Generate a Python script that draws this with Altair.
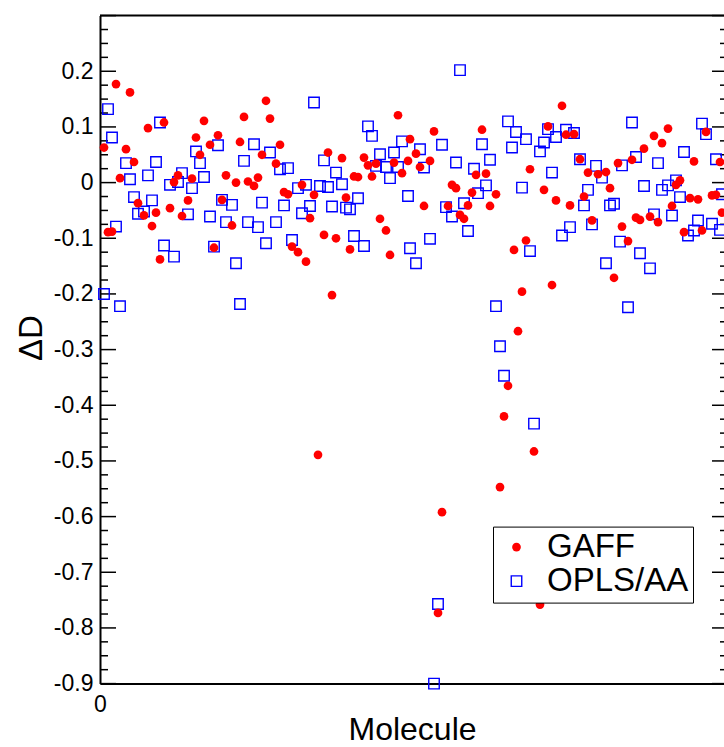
import altair as alt
import pandas as pd

FONT = "Liberation Sans"

series_names = ["GAFF", "OPLS/AA"]

gaff_x = [8, 15, 24, 32, 48, 2, 13, 17, 10, 39, 37, 46, 44, 19, 35, 28, 22, 41, 26, 4, 6, 30,
          50, 83, 72, 85, 52, 59, 55, 70, 90, 81, 88, 63, 68, 74, 79, 77, 92, 94, 101, 61, 66, 57, 96, 99, 103,
          149, 114, 121, 132, 134, 138, 147, 154, 155, 127, 129, 136, 151, 107, 123, 105, 140, 143, 112, 118, 125, 145, 116, 109,
          167, 191, 158, 165, 160, 188, 193, 176, 178, 186, 198, 162, 174, 184, 195, 180, 182, 207,
          231, 224, 233, 237, 240, 259, 215, 244, 249, 253, 255, 222, 228, 235, 242, 246, 261, 213, 257, 226, 211,
          284, 277, 281, 272, 303, 266, 297, 310, 290, 288, 295, 299, 306, 308, 286, 311, 268, 270, 275, 279, 292, 301, 264,
          209, 204, 202, 217, 200, 171, 169, 220]
gaff_y = [0.177, 0.162, 0.098, 0.108, 0.081, 0.063, 0.060, 0.037, 0.008, 0.013, 0.001, 0.007, -0.032, -0.037, -0.046, -0.054, -0.059, -0.060, -0.078, -0.089, -0.088, -0.138,
          0.050, 0.147, 0.118, 0.115, 0.111, 0.085, 0.068, 0.073, 0.068, 0.050, 0.034, 0.013, 0.000, 0.002, 0.009, -0.006, -0.017, -0.021, -0.004, -0.031, -0.077, -0.117, -0.115, -0.125, -0.142,
          0.121, 0.054, 0.044, 0.045, 0.031, 0.034, 0.036, 0.039, 0.078, 0.011, 0.010, 0.011, 0.017, -0.022, -0.027, -0.064, -0.065, -0.086, -0.094, -0.100, -0.120, -0.130, -0.202, -0.489,
          0.092, 0.095, 0.052, 0.039, 0.028, 0.014, 0.016, -0.004, -0.010, -0.018, -0.021, -0.042, -0.042, -0.041, -0.042, -0.058, -0.065, -0.121,
          0.138, 0.101, 0.086, 0.087, 0.042, 0.035, 0.024, 0.018, 0.015, 0.019, -0.010, -0.013, -0.032, -0.041, -0.025, -0.068, -0.079, -0.104, -0.171, -0.184, -0.196,
          0.097, 0.084, 0.071, 0.061, 0.091, 0.041, 0.038, 0.037, 0.004, -0.004, -0.028, -0.030, -0.023, -0.022, -0.042, -0.054, -0.063, -0.067, -0.061, -0.071, -0.089, -0.086, -0.105,
          -0.267, -0.365, -0.420, -0.483, -0.547, -0.592, -0.773, -0.758]

opls_x = [4, 30, 6, 48, 13, 28, 50, 15, 24, 41, 35, 39, 46, 17, 26, 19, 22, 44, 8, 32, 37, 2, 10,
          59, 77, 85, 72, 90, 94, 52, 99, 61, 66, 81, 92, 101, 55, 63, 74, 79, 88, 83, 96, 57, 68, 70,
          107, 134, 136, 151, 140, 147, 112, 138, 143, 149, 118, 145, 121, 110, 114, 103, 129, 154, 105, 116, 123, 125, 127, 132, 155,
          180, 204, 208, 171, 191, 206, 160, 178, 195, 187, 162, 193, 189, 182, 173, 176, 184, 165, 158, 198,
          213, 224, 233, 237, 228, 222, 220, 240, 248, 251, 261, 226, 211, 244, 242, 255, 257, 246, 235, 231, 260, 215, 253,
          266, 301, 303, 292, 308, 268, 279, 288, 284, 281, 272, 290, 311, 277, 286, 299, 306, 297, 294, 310, 270, 275, 264,
          200, 202, 217, 169, 167]
opls_y = [0.132, 0.108, 0.081, 0.056, 0.035, 0.037, 0.035, 0.006, 0.013, 0.017, -0.004, 0.001, -0.010, -0.026, -0.032, -0.056, -0.052, -0.057, -0.079, -0.113, -0.133, -0.200, -0.222,
          0.067, 0.069, 0.054, 0.039, 0.024, 0.026, 0.010, -0.010, -0.031, -0.040, -0.036, -0.041, -0.055, -0.061, -0.071, -0.071, -0.080, -0.071, -0.109, -0.103, -0.115, -0.145, -0.218,
          0.144, 0.101, 0.084, 0.074, 0.051, 0.054, 0.040, 0.030, 0.028, 0.028, 0.018, 0.008, -0.003, -0.006, -0.008, -0.004, -0.028, -0.024, -0.042, -0.043, -0.045, -0.048, -0.096, -0.114, -0.118,
          0.202, 0.110, 0.091, 0.068, 0.069, 0.063, 0.060, 0.036, 0.041, 0.025, 0.027, -0.005, -0.019, -0.037, -0.044, -0.061, -0.087, -0.101, -0.145, -0.222,
          0.078, 0.096, 0.095, 0.089, 0.082, 0.072, 0.056, 0.042, 0.030, 0.009, 0.031, 0.018, -0.009, -0.013, -0.041, -0.041, -0.038, -0.075, -0.080, -0.095, -0.106, -0.123, -0.145,
          0.108, 0.106, 0.087, 0.055, 0.042, 0.046, 0.035, 0.004, -0.005, -0.013, -0.006, -0.026, -0.021, -0.057, -0.059, -0.068, -0.074, -0.086, -0.095, -0.085, -0.127, -0.154, -0.224,
          -0.294, -0.347, -0.433, -0.757, -0.900]

y_tick_labels = [0.2, 0.1, 0.0, -0.1, -0.2, -0.3, -0.4, -0.5, -0.6, -0.7, -0.8, -0.9]
x_tick_labels = [0]
x_domain = [0, 312]
y_domain = [-0.9, 0.3]

# points: OPLS/AA first so GAFF dots are drawn on top
df = pd.DataFrame({
    "Molecule": opls_x + gaff_x,
    "dD": opls_y + gaff_y,
    "series": ["OPLS/AA"] * len(opls_x) + ["GAFF"] * len(gaff_x),
})

# inward tick marks (every 0.025, long every 0.1), left and right frame edges
tick_vals = [round(y_domain[0] + 0.025 * i, 3) for i in range(49)]
rows = []
for v in tick_vals:
    major = abs(round(v * 10) - v * 10) < 1e-6
    rows.append({"x0": 0, "x1": 8 if major else 4, "v": v})
    rows.append({"x0": 306 if major else 310, "x1": 312, "v": v})
ticks_df = pd.DataFrame(rows)
top_df = pd.DataFrame({"x0": [0], "x1": [312], "v": [0.3]})

x_scale = alt.Scale(domain=x_domain, nice=False, zero=False)
y_scale = alt.Scale(domain=y_domain, nice=False, zero=False)

x_axis = alt.Axis(
    values=x_tick_labels, ticks=False, tickSize=0, grid=False,
    domainColor="black", domainWidth=2,
    labelFont=FONT, labelFontSize=23, labelColor="black", labelPadding=10, labelFlush=False,
    titleFont=FONT, titleFontSize=32, titleFontWeight="normal", titleColor="black",
    titleY=56, titleBaseline="alphabetic",
)
y_axis = alt.Axis(
    values=y_tick_labels, ticks=False, tickSize=0, grid=False,
    domainColor="black", domainWidth=2,
    labelFont=FONT, labelFontSize=23, labelColor="black", labelPadding=7,
    labelExpr="datum.value == 0 ? '0' : (datum.value < 0 ? '-' : '') + format(abs(datum.value), '.1f')",
    titleFont=FONT, titleFontSize=33, titleFontWeight="normal", titleColor="black",
    titleAngle=270, titleX=-69, titleY=322, titleAlign="center", titleBaseline="middle",
)

legend = alt.Legend(title=None)

ticks = alt.Chart(ticks_df).mark_rule(color="black", strokeWidth=1.5).encode(
    x=alt.X("x0:Q", scale=x_scale, axis=x_axis, title="Molecule"),
    x2="x1:Q",
    y=alt.Y("v:Q", scale=y_scale, axis=y_axis, title="ΔD"),
)
top = alt.Chart(top_df).mark_rule(color="black", strokeWidth=2).encode(
    x=alt.X("x0:Q", scale=x_scale, axis=x_axis, title="Molecule"),
    x2="x1:Q",
    y=alt.Y("v:Q", scale=y_scale, axis=y_axis, title="ΔD"),
)

points = alt.Chart(df).mark_point(opacity=1).encode(
    x=alt.X("Molecule:Q", scale=x_scale, axis=x_axis, title="Molecule"),
    y=alt.Y("dD:Q", scale=y_scale, axis=y_axis, title="ΔD"),
    shape=alt.Shape("series:N", scale=alt.Scale(domain=series_names, range=["circle", "square"]), legend=legend),
    fill=alt.Fill("series:N", scale=alt.Scale(domain=series_names, range=["#ff0000", "transparent"]), legend=legend),
    stroke=alt.Stroke("series:N", scale=alt.Scale(domain=series_names, range=["#ff0000", "#0000ff"]), legend=legend),
    size=alt.Size("series:N", scale=alt.Scale(domain=series_names, range=[76, 110]), legend=legend),
    strokeWidth=alt.StrokeWidth("series:N", scale=alt.Scale(domain=series_names, range=[0, 1.4]), legend=legend),
)

chart = alt.layer(ticks, top, points).properties(
    width=624, height=668,
    padding={"left": 100, "top": 15.6, "right": 0, "bottom": 63.4},
    autosize=alt.AutoSizeParams(type="none"),
).configure_view(strokeWidth=0).configure_legend(
    orient="none", legendX=393, legendY=511,
    labelFont=FONT, labelFontSize=33, labelColor="black",
    strokeColor="black", fillColor="white", padding=4,
    symbolOffset=3, labelOffset=14, rowPadding=0, columnPadding=0,
)

chart.save("out.html", embed_options={"renderer": "svg", "actions": False})
